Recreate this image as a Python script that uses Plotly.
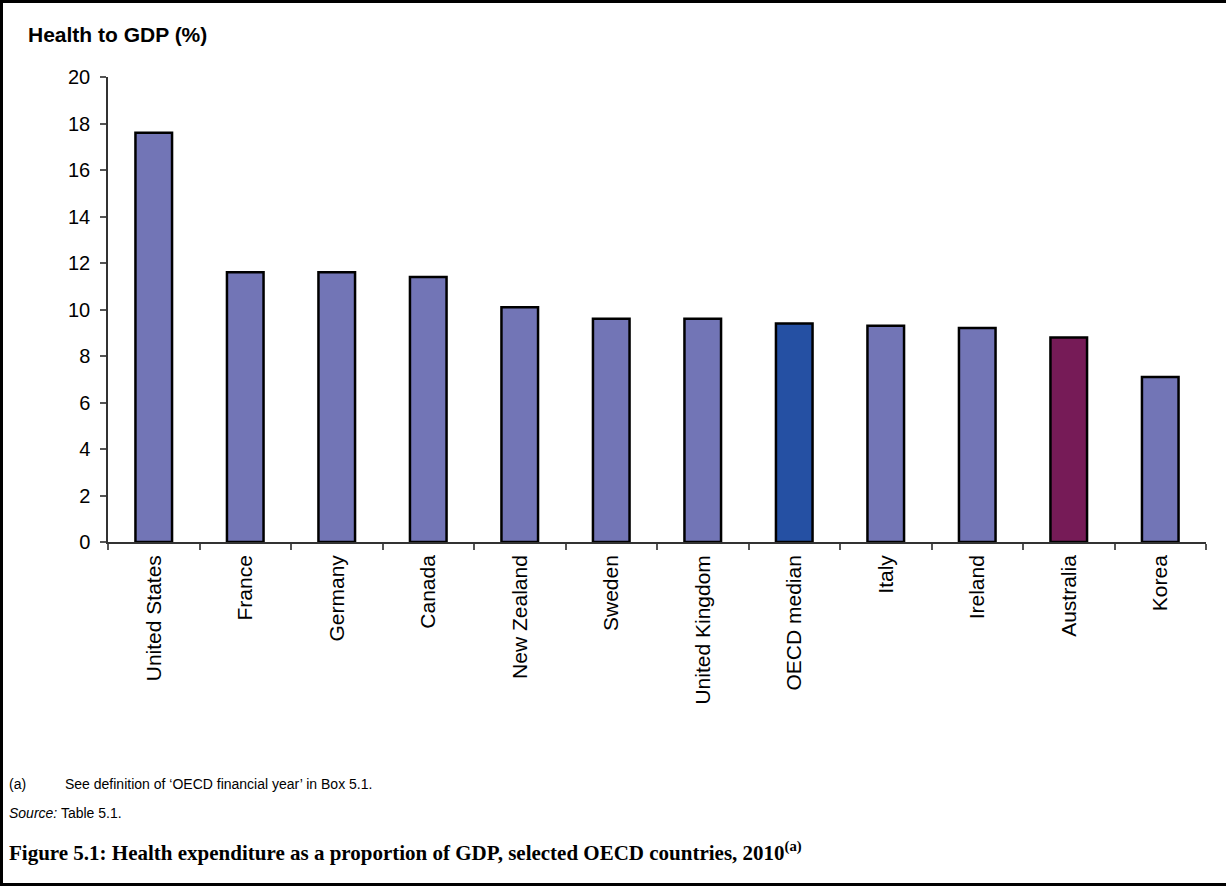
import plotly.graph_objects as go

# Health expenditure as a share of GDP, 2010
countries = ["United States", "France", "Germany", "Canada", "New Zealand", "Sweden",
             "United Kingdom", "OECD median", "Italy", "Ireland", "Australia", "Korea"]
health_gdp = [17.6, 11.6, 11.6, 11.4, 10.1, 9.6, 9.6, 9.4, 9.3, 9.2, 8.8, 7.1]
y_ticks = [0, 2, 4, 6, 8, 10, 12, 14, 16, 18, 20]

BASE = "#7275B6"
HIGHLIGHT = {"OECD median": "#2550A3", "Australia": "#761B57"}
bar_colors = [HIGHLIGHT.get(c, BASE) for c in countries]

W, H = 1226, 886
L, R, T, B = 108, 20, 77, 344
PW, PH = W - L - R, H - T - B


def px(x):
    return (x - L) / PW


def py(y):
    return 1 - (y - T) / PH


fig = go.Figure(go.Bar(
    x=countries, y=health_gdp, width=0.4,
    marker=dict(color=bar_colors, line=dict(color="black", width=2.5)),
))

font = "Liberation Sans, Arial, sans-serif"
serif = "Liberation Serif, Times New Roman, serif"

fig.update_layout(
    width=W, height=H,
    margin=dict(l=L, r=R, t=T, b=B),
    paper_bgcolor="white", plot_bgcolor="white",
    showlegend=False,
    font=dict(family=font, color="black"),
    xaxis=dict(
        type="category", tickson="boundaries", ticks="outside", ticklen=6,
        tickcolor="#555", tickwidth=1.5, showline=True, linecolor="#333", linewidth=1.5,
        tickangle=-90, tickfont=dict(size=21, family=font, color="black"),
        showgrid=False, range=[-0.5, len(countries) - 0.5], ticklabelstandoff=3,
    ),
    yaxis=dict(
        range=[0, 20], tickvals=y_ticks, ticks="outside", ticklen=6,
        tickcolor="#555", tickwidth=1.5, showline=True, linecolor="#333", linewidth=1.5,
        tickfont=dict(size=20, family=font, color="black"), showgrid=False,
        zeroline=False, ticklabelstandoff=6,
    ),
    shapes=[
        dict(type="line", xref="paper", yref="paper", x0=px(0), x1=px(W), y0=py(1.5), y1=py(1.5),
             line=dict(color="black", width=3)),
        dict(type="line", xref="paper", yref="paper", x0=px(1.5), x1=px(1.5), y0=py(0), y1=py(H),
             line=dict(color="black", width=3)),
        dict(type="line", xref="paper", yref="paper", x0=px(0), x1=px(W), y0=py(884.5), y1=py(884.5),
             line=dict(color="black", width=3)),
    ],
)

annotations = [
    dict(text="<b>Health to GDP (%)</b>", x=px(26), y=py(35), size=21, family=font),
    dict(text="(a)", x=px(7), y=py(784), size=14, family=font),
    dict(text="See definition of ‘OECD financial year’ in Box 5.1.", x=px(63), y=py(784), size=14, family=font),
    dict(text="<i>Source:</i> Table 5.1.", x=px(7), y=py(813), size=14, family=font),
    dict(text="<b>Figure 5.1: Health expenditure as a proportion of GDP, selected OECD countries, 2010"
              "<sup>(a)</sup></b>",
         x=px(7), y=py(851), size=21, family=serif),
]
for a in annotations:
    fig.add_annotation(
        text=a["text"], x=a["x"], y=a["y"], xref="paper", yref="paper",
        xanchor="left", yanchor="middle", showarrow=False,
        font=dict(size=a["size"], family=a["family"], color="black"),
    )

fig.write_html("out.html")
